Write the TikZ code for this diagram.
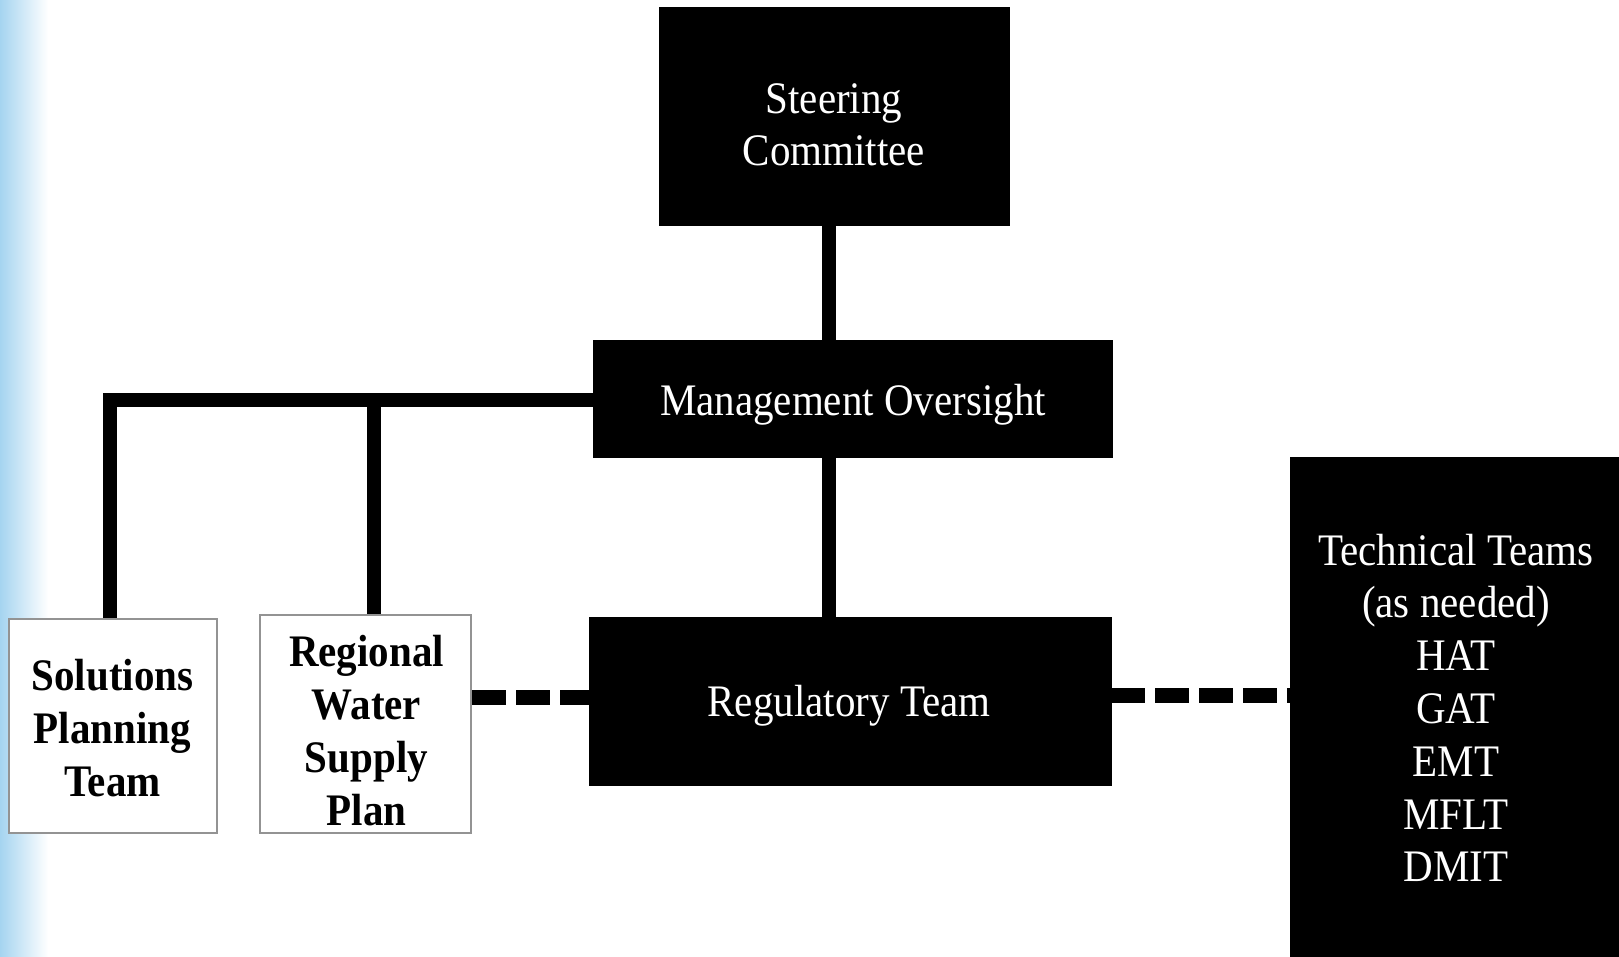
\documentclass[tikz,border=0pt]{standalone}
\usepackage{graphicx}
\usepackage{fontspec}
\setmainfont{Liberation Serif}
\definecolor{waterblue}{RGB}{165,212,240}
\newcommand\stk[1]{\scalebox{1}[1.1]{\begin{tabular}{@{}c@{}}#1\end{tabular}}}
\begin{document}
\begin{tikzpicture}[x=0.5pt,y=-0.5pt,
  blackbox/.style={draw=black, fill=black, inner sep=0pt},
  whitebox/.style={draw=gray!85, line width=1pt, fill=white, inner sep=0pt},
  wtxt/.style={text=white, inner sep=0pt, font=\fontsize{20.5}{24}\selectfont},
  btxt/.style={text=black, inner sep=0pt, font=\fontsize{20.5}{24}\selectfont\bfseries},
  conn/.style={line width=7pt},
  dashconn/.style={line width=7.5pt, dash pattern=on 17pt off 5pt}]
\useasboundingbox (0,0) rectangle (1619,957);
\fill[white] (0,0) rectangle (1619,957);
\shade[left color=waterblue, right color=white] (0,0) rectangle (48,957);

\node[blackbox, minimum width=175pt, minimum height=109pt] (sc) at (834,116) {};
\node[blackbox, minimum width=259.5pt, minimum height=58.5pt] (mo) at (852.5,398.5) {};
\node[blackbox, minimum width=261pt, minimum height=84pt] (rt) at (850,701) {};
\node[blackbox, minimum width=164.5pt, minimum height=250pt] (tt) at (1454.5,707) {};
\node[whitebox, minimum width=104pt, minimum height=107pt] (spt) at (113,726) {};
\node[whitebox, minimum width=105.5pt, minimum height=109pt] (rwsp) at (365.5,724) {};

\node[wtxt] (sct) at (834,129) {\stk{Steering\\Committee}};
\node[wtxt] (mot) at (853,404.5) {\stk{Management Oversight}};
\node[wtxt] (rtt) at (849,706) {\stk{Regulatory Team}};
\node[wtxt] (ttt) at (1456,713) {\stk{Technical Teams\\(as needed)\\HAT\\GAT\\EMT\\MFLT\\DMIT}};
\node[btxt] (sptt) at (112.5,733) {\stk{Solutions\\Planning\\Team}};
\node[btxt] (rwspt) at (366.5,735.5) {\stk{Regional\\Water\\Supply\\Plan}};

\coordinate (c1) at (829,0);
\coordinate (c2) at (110,400);
\coordinate (c3) at (374,400);
\coordinate (d1) at (0,697);
\coordinate (d2) at (0,695);

\draw[conn] (c1 |- sc.south) -- (c1 |- mo.north);
\draw[conn] (c1 |- mo.south) -- (c1 |- rt.north);
\draw[conn] (mo.west |- c2) -| (c2 |- spt.north);
\draw[conn] (c3) -- (c3 |- rwsp.north);
\draw[dashconn] (rwsp.east |- d1) -- (rt.west |- d1);
\draw[dashconn] (rt.east |- d2) -- (tt.west |- d2);
\end{tikzpicture}
\end{document}
